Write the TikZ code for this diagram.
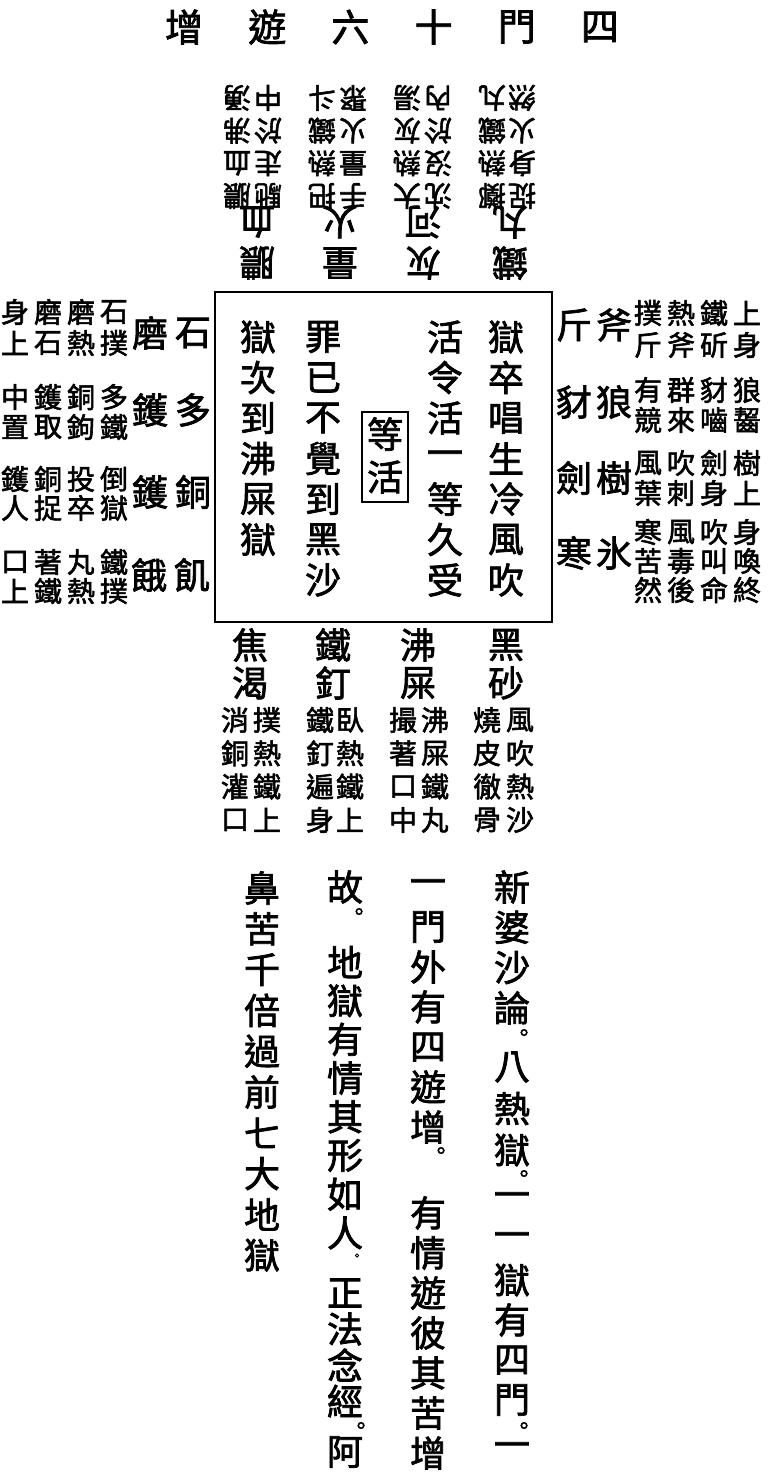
\documentclass[tikz,border=0pt]{standalone}
\usepackage{fontspec}
\setmainfont{Noto Sans CJK TC}[FakeBold=2]
\newcommand\charrun[6][]{%
  \foreach \ch [count=\n from 0] in {#6}
    \node[#1] at ({#2+\n*(#4)},{#3+\n*(#5)}) {\ch};}

\begin{document}
\begin{tikzpicture}[
    x=1pt, y=-1pt,
    every node/.style={inner sep=0pt},
    titlechar/.style={font=\fontsize{38}{38}\selectfont},
    mainchar/.style={font=\fontsize{36}{36}\selectfont},
    bigchar/.style={font=\fontsize{36}{36}\selectfont},
    smallchar/.style={font=\fontsize{28}{28}\selectfont},
    punct/.style={font=\fontsize{22}{22}\selectfont},
    frame/.style={draw, line width=2pt}
]
\useasboundingbox[fill=white] (0,0) rectangle (768,1477);

% Title
\charrun[titlechar]{184}{27}{83.2}{0}{增,遊,六,十,門,四}

% Gate box
\draw[frame] (215,292) rectangle (552,622);
\draw[line width=1.5pt] (362,412) rectangle (408,502);
\charrun[mainchar]{506}{337}{0}{40.5}{獄,卒,唱,生,冷,風,吹}
\charrun[mainchar]{445}{337}{0}{40.5}{活,令,活,一,等,久,受}
\charrun[mainchar]{385}{434}{0}{43}{等,活}
\charrun[mainchar]{323}{337}{0}{40.5}{罪,已,不,覺,到,黑,沙}
\charrun[mainchar]{258}{337}{0}{40.5}{獄,次,到,沸,屎,獄}

% Upper side (upside down)
\charrun[bigchar,rotate=180]{257}{263}{0}{-41}{膿,血}
\charrun[smallchar,rotate=180]{237}{196}{0}{-32.7}{膿,血,沸,湧}
\charrun[smallchar,rotate=180]{268}{196}{0}{-32.7}{馳,走,於,中}
\charrun[bigchar,rotate=180]{340}{263}{0}{-41}{量,火}
\charrun[smallchar,rotate=180]{322}{196}{0}{-32.7}{把,熱,鐵,斗}
\charrun[smallchar,rotate=180]{353}{196}{0}{-32.7}{手,量,火,聚}
\charrun[bigchar,rotate=180]{423}{263}{0}{-41}{灰,河}
\charrun[smallchar,rotate=180]{407}{196}{0}{-32.7}{大,熱,灰,湯}
\charrun[smallchar,rotate=180]{438}{196}{0}{-32.7}{沈,沒,於,內}
\charrun[bigchar,rotate=180]{510}{263}{0}{-41}{鐵,丸}
\charrun[smallchar,rotate=180]{492}{196}{0}{-32.7}{擲,熱,鐵,丸}
\charrun[smallchar,rotate=180]{522}{196}{0}{-32.7}{捉,身,火,然}

% Left side
\charrun[bigchar]{193}{333}{-43}{0}{石,磨}
\charrun[smallchar]{114}{312}{-33}{0}{石,磨,磨,身}
\charrun[smallchar]{114}{343}{-33}{0}{撲,熱,石,上}
\charrun[bigchar]{193}{410}{-43}{0}{多,鑊}
\charrun[smallchar]{114}{397}{-33}{0}{多,銅,鑊,中}
\charrun[smallchar]{114}{427}{-33}{0}{鐵,鉤,取,置}
\charrun[bigchar]{193}{492}{-43}{0}{銅,鑊}
\charrun[smallchar]{114}{479}{-33}{0}{倒,投,銅,鑊}
\charrun[smallchar]{114}{508}{-33}{0}{獄,卒,捉,人}
\charrun[bigchar]{192}{575}{-43}{0}{飢,餓}
\charrun[smallchar]{114}{562}{-33}{0}{鐵,丸,著,口}
\charrun[smallchar]{114}{591}{-33}{0}{撲,熱,鐵,上}

% Right side
\charrun[bigchar]{574}{325}{40}{0}{斤,斧}
\charrun[smallchar]{648}{313}{33}{0}{撲,熱,鐵,上}
\charrun[smallchar]{648}{345}{33}{0}{斤,斧,斫,身}
\charrun[bigchar]{574}{402}{40}{0}{豺,狼}
\charrun[smallchar]{648}{390}{33}{0}{有,群,豺,狼}
\charrun[smallchar]{648}{420}{33}{0}{競,來,嚙,齧}
\charrun[bigchar]{574}{478}{40}{0}{劍,樹}
\charrun[smallchar]{648}{463}{33}{0}{風,吹,劍,樹}
\charrun[smallchar]{648}{493}{33}{0}{葉,刺,身,上}
\charrun[bigchar]{574}{553}{40}{0}{寒,氷}
\charrun[smallchar]{648}{532}{33}{0}{寒,風,吹,身}
\charrun[smallchar]{648}{561}{33}{0}{苦,毒,叫,喚}
\charrun[smallchar]{648}{590}{33}{0}{然,後,命,終}

% Lower side
\charrun[bigchar]{506}{645}{0}{38}{黑,砂}
\charrun[smallchar]{520}{720}{0}{33.3}{風,吹,熱,沙}
\charrun[smallchar]{487}{720}{0}{33.3}{燒,皮,徹,骨}
\charrun[bigchar]{418}{645}{0}{38}{沸,屎}
\charrun[smallchar]{435}{720}{0}{33.3}{沸,屎,鐵,丸}
\charrun[smallchar]{403}{720}{0}{33.3}{撮,著,口,中}
\charrun[bigchar]{333}{645}{0}{38}{鐵,釘}
\charrun[smallchar]{350}{720}{0}{33.3}{臥,熱,鐵,上}
\charrun[smallchar]{320}{720}{0}{33.3}{鐵,釘,遍,身}
\charrun[bigchar]{250}{645}{0}{38}{焦,渴}
\charrun[smallchar]{267}{720}{0}{33.3}{撲,熱,鐵,上}
\charrun[smallchar]{235}{720}{0}{33.3}{消,銅,灌,口}

% Note text
\charrun[mainchar]{512}{887}{0}{40.3}{新,婆,沙,論}
\node[punct] at (524,1035) {。};
\charrun[mainchar]{512}{1067}{0}{41.5}{八,熱,獄}
\node[punct] at (524,1176) {。};
\charrun[mainchar]{512}{1200}{0}{40}{一,一,獄,有,四,門}
\node[punct] at (524,1428) {。};
\node[mainchar] at (512,1450) {一};
\charrun[mainchar]{428}{887}{0}{40}{一,門,外,有,四,遊,增}
\node[punct] at (441,1153) {。};
\charrun[mainchar]{428}{1213}{0}{40}{有,情,遊,彼,其,苦,增}
\node[mainchar] at (345,887) {故};
\node[punct] at (359,914) {。};
\charrun[mainchar]{345}{962}{0}{38.7}{地,獄,有,情,其,形,如,人}
\node[punct, font=\fontsize{13}{13}\selectfont] at (357,1257) {。};
\charrun[mainchar]{345}{1293}{0}{36}{正,法,念,經}
\node[punct] at (361,1428) {。};
\node[mainchar] at (345,1452) {阿};
\charrun[mainchar]{262}{888}{0}{40.8}{鼻,苦,千,倍,過,前,七,大,地,獄}
\end{tikzpicture}
\end{document}
